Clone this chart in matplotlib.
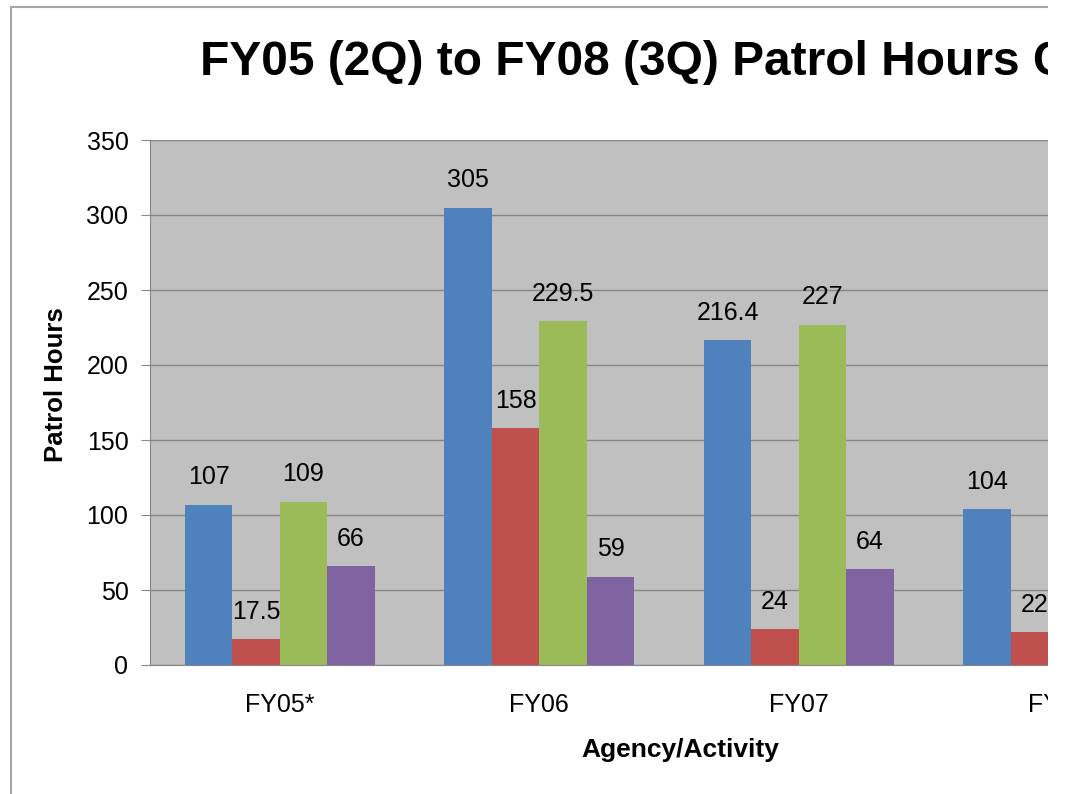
import matplotlib.pyplot as plt
from matplotlib.patches import Rectangle
import numpy as np

categories = ["FY05*", "FY06", "FY07", "FY08"]
series1 = [107, 305, 216.4, 104]
series2 = [17.5, 158, 24, 22]
series3 = [109, 229.5, 227, np.nan]
series4 = [66, 59, 64, np.nan]
colors = ["#4F81BD", "#C0504D", "#9BBB59", "#8064A2"]

plt.rcParams['font.family'] = ['Liberation Sans', 'DejaVu Sans']

W, H = 1068, 794
fig = plt.figure(figsize=(W / 100, H / 100), dpi=100)

# plot area in pixels: left 150, top 140, bottom 665; it runs past the
# right edge and the chart is cut at x=1048 by a white cover below
ax = fig.add_axes([150 / W, 1 - 665 / H, (1150 - 150) / W, (665 - 140) / H])
ax.set_facecolor("#C0C0C0")

x = np.arange(len(categories))
bw = 0.183
allseries = [series1, series2, series3, series4]
for i, vals in enumerate(allseries):
    pos = x + (i - 1.5) * bw
    ax.bar(pos, vals, width=bw, color=colors[i], zorder=3)
    for p, v in zip(pos, vals):
        if np.isnan(v):
            continue
        ax.annotate(f"{v:g}", (p, v), xytext=(0, 14.5), textcoords="offset points",
                    ha="center", va="baseline", fontsize=18, zorder=4)

ax.set_ylim(0, 350)
ax.set_yticks(range(0, 351, 50))
ax.set_xticks(x)
ax.set_xticklabels(categories, fontsize=18)
ax.set_xlim(-0.5, -0.5 + 1000 / 259.5)
ax.tick_params(axis="x", length=0, pad=20)
ax.tick_params(axis="y", labelsize=18, length=6.5, color="#868686", pad=9)
ax.grid(axis="y", color="#868686", linewidth=1, zorder=0)
ax.set_axisbelow(True)
for s in ["top", "right"]:
    ax.spines[s].set_visible(False)
for s in ["left", "bottom"]:
    ax.spines[s].set_color("#868686")

fig.text(56 / W, 1 - 385 / H, "Patrol Hours", ha="center", va="center", rotation=90,
         fontsize=18.5, fontweight="bold")
fig.text(680 / W, 1 - 750 / H, "Agency/Activity", ha="center", va="center",
         fontsize=19, fontweight="bold")
fig.text(200 / W, 1 - 75 / H, "FY05 (2Q) to FY08 (3Q) Patrol Hours Comparison",
         ha="left", va="baseline", fontsize=34.5, fontweight="bold")

# outer chart border, then white cover for the cut-off right side
fig.patches.append(Rectangle((11 / W, -0.1), 1.2, 1 - 7 / H + 0.1, transform=fig.transFigure,
                             fill=False, edgecolor="#A6A6A6", linewidth=1.5, zorder=4))
fig.patches.append(Rectangle((1048 / W, 0), 1, 1, transform=fig.transFigure,
                             facecolor="white", edgecolor="none", zorder=5))

fig.savefig("out.png", dpi=100)
